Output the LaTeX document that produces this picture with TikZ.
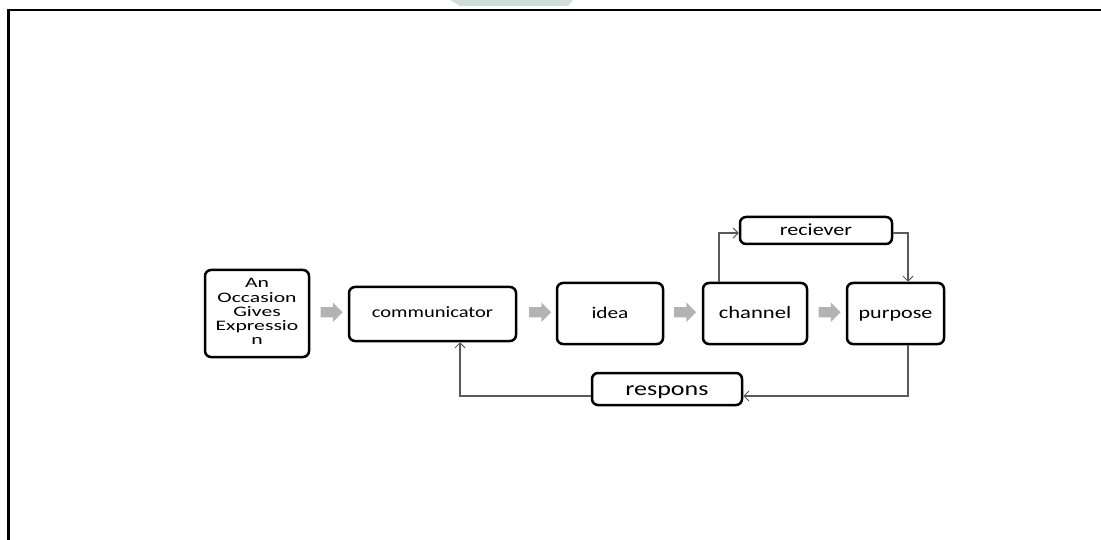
\documentclass[tikz,border=0pt]{standalone}
\usepackage{fontspec}
\usepackage{graphicx}
\setmainfont{Carlito}[FakeStretch=1.3]
\usetikzlibrary{arrows.meta,shapes.arrows}
\definecolor{wm}{HTML}{CFDED8}
\definecolor{conncol}{HTML}{5A5A5A}
\definecolor{blockarrow}{HTML}{B3B3B3}
\tikzset{
  box/.style={draw=black, line width=2.5pt, rounded corners=6pt, inner sep=1pt, align=center},
  fsz/.style={font=\fontsize{#1}{14.25}\selectfont},
  basel/.style={text height=#1, text depth=0pt},
  conn/.style={draw=conncol, line width=1.1pt, -{Straight Barb[length=5pt,width=10pt,line width=1pt]}},
  garrow/.style={single arrow, fill=blockarrow, draw=none, minimum height=22pt,
    text height=0pt, text depth=0pt, inner xsep=0pt, inner ysep=5pt,
    single arrow head extend=4.5pt, single arrow tip angle=90}
}
\begin{document}
\begin{tikzpicture}[x=1pt,y=-1pt]
\useasboundingbox (0,0) rectangle (1101,540);
% watermark
\fill[wm] (450,0) -- (573,0) -- (568,6) -- (460,6) -- cycle;
% frame
\draw[line width=2.2pt] (8.5,540) -- (8.5,10) -- (1101,10);
% boxes
\node[box, font=\fontsize{14.5}{14.25}\selectfont, minimum width=104pt, minimum height=87pt] (occ) at (257,313.5)
  {\scalebox{1.15}[1]{\begin{tabular}{@{}c@{}}An\\Occasion\\Gives\\Expressio\\n\end{tabular}}};
\node[box, fsz=15.8, basel=7pt, minimum width=167pt, minimum height=54pt] (comm) at (432.5,314) {communicator};
\node[box, fsz=16.4, basel=11pt, minimum width=106pt, minimum height=61pt] (idea) at (610,313.5) {idea};
\node[box, fsz=17.4, basel=11pt, minimum width=104pt, minimum height=61pt] (chan) at (755,313.5) {channel};
\node[box, fsz=17, basel=11pt, minimum width=97pt, minimum height=61pt] (purp) at (895.5,313.5) {purpose};
\node[box, fsz=17, basel=11pt, minimum width=152pt, minimum height=27pt] (recv) at (816,230.5) {reciever};
\node[box, fsz=20, basel=12pt, minimum width=150pt, minimum height=32pt] (resp) at (667,389) {respons};
% grey block arrows
\node[garrow] (g1) at (329,312.2) {};
\node[garrow] (g2) at (537.5,312.2) {};
\node[garrow] (g3) at (682.5,312.2) {};
\node[garrow] (g4) at (827,312.2) {};
% connectors
\draw[conn] ([xshift=-36pt]chan.north) |- ([yshift=-2.5pt]recv.west);
\draw[conn] ([yshift=-2.5pt]recv.east) -| ([xshift=12.5pt]purp.north);
\draw[conn] ([xshift=12.5pt]purp.south) |- ([yshift=-7pt]resp.east);
\draw[conn] ([yshift=-7pt]resp.west) -| ([xshift=27.5pt]comm.south);
\end{tikzpicture}
\end{document}
